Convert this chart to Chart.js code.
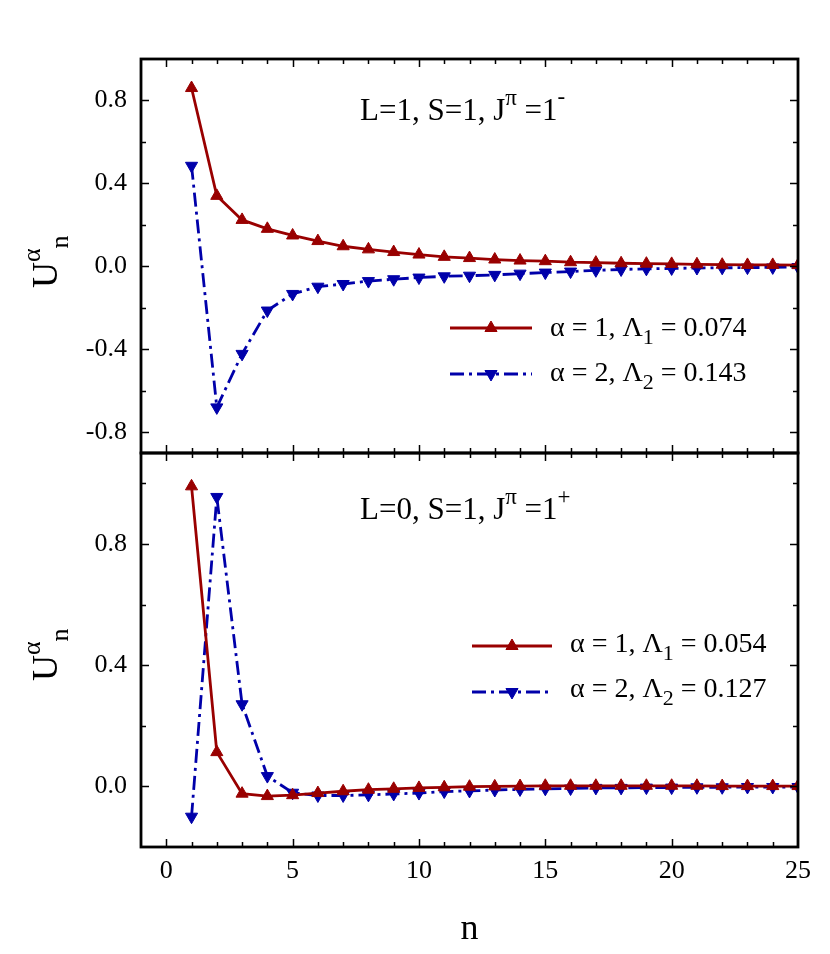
<!DOCTYPE html>
<html>
<head>
<meta charset="utf-8">
<title>U_n^alpha</title>
<script src="https://cdn.jsdelivr.net/npm/chart.js@4.4.1/dist/chart.umd.min.js"></script>
<style>
  html, body { margin: 0; padding: 0; background: #fff; }
  #wrap { position: relative; width: 830px; height: 954px; overflow: hidden; }
  canvas { position: absolute; left: 0; }
</style>
</head>
<body>
<div id="wrap">
  <canvas id="topChart" width="830" height="456" style="top:0"></canvas>
  <canvas id="botChart" width="830" height="511" style="top:443px"></canvas>
</div>
<script>
// basis index n
const nVals = [1, 2, 3, 4, 5, 6, 7, 8, 9, 10, 11, 12, 13, 14, 15, 16, 17, 18, 19, 20, 21, 22, 23, 24, 25]

// top panel: L=1, S=1, J^pi = 1^-
const topA1 = [0.86, 0.34, 0.224, 0.181, 0.149, 0.122, 0.097, 0.082, 0.069, 0.057, 0.046, 0.040, 0.033, 0.028, 0.025, 0.020, 0.018, 0.015, 0.013, 0.012, 0.010, 0.008, 0.007, 0.007, 0.006]
const topA2 = [0.485, -0.68, -0.422, -0.213, -0.133, -0.098, -0.085, -0.071, -0.062, -0.054, -0.048, -0.045, -0.041, -0.035, -0.030, -0.025, -0.019, -0.015, -0.012, -0.010, -0.008, -0.007, -0.006, -0.005, -0.003]

// bottom panel: L=0, S=1, J^pi = 1^+
const botA1 = [0.99, 0.113, -0.024, -0.032, -0.029, -0.022, -0.016, -0.011, -0.008, -0.005, -0.003, -0.001, 0.0, 0.001, 0.002, 0.002, 0.002, 0.002, 0.002, 0.002, 0.002, 0.001, 0.001, 0.001, 0.001]
const botA2 = [-0.10, 0.955, 0.271, 0.034, -0.021, -0.030, -0.030, -0.028, -0.025, -0.022, -0.017, -0.015, -0.012, -0.010, -0.008, -0.007, -0.005, -0.005, -0.004, -0.004, -0.003, -0.003, -0.002, -0.002, -0.002]

// ticks
const xTicks = [0, 1, 2, 3, 4, 5, 6, 7, 8, 9, 10, 11, 12, 13, 14, 15, 16, 17, 18, 19, 20, 21, 22, 23, 24, 25]
const xLabels = [0, 5, 10, 15, 20, 25]
const yTicksTop = [-0.8, -0.6, -0.4, -0.2, 0, 0.2, 0.4, 0.6, 0.8]
const yLabelsTop = [-0.8, -0.4, 0, 0.4, 0.8]
const yTicksBot = [0, 0.2, 0.4, 0.6, 0.8, 1.0]
const yLabelsBot = [0, 0.4, 0.8]

const RED = '#990000'
const BLUE = '#0000AA'
const SERIF = "'Liberation Serif', 'Times New Roman', serif"
const BLUE_DASH = [14, 5, 3, 5]
const LINE_W = 2.8
const MARK_R = 7

const pts = ys => nVals.map((x, i) => ({ x, y: ys[i] }))

function datasets(a1, a2) {
  return [
    {
      data: pts(a1),
      borderColor: RED, backgroundColor: RED, borderWidth: LINE_W,
      pointStyle: 'triangle', pointRadius: MARK_R, pointBorderWidth: 1,
      pointBackgroundColor: RED, pointBorderColor: RED,
    },
    {
      data: pts(a2),
      borderColor: BLUE, backgroundColor: BLUE, borderWidth: LINE_W,
      borderDash: BLUE_DASH,
      pointStyle: 'triangle', pointRotation: 180, pointRadius: MARK_R, pointBorderWidth: 1,
      pointBackgroundColor: BLUE, pointBorderColor: BLUE,
    },
  ]
}

// draw text pieces one after another: [text, size, dy]
function richText(ctx, parts, x, y) {
  let cx = x
  parts.forEach(([t, size, dy]) => {
    ctx.font = `${size}px ${SERIF}`
    ctx.fillText(t, cx, y + (dy || 0))
    cx += ctx.measureText(t).width
  })
}

// inward tick marks on all four sides + frame
const framePlugin = {
  id: 'frame',
  afterDraw(chart) {
    const { ctx, chartArea: a, scales: { x, y } } = chart
    ctx.save()
    ctx.strokeStyle = '#000'
    ctx.lineWidth = 1.5
    ctx.beginPath()
    x.ticks.forEach(t => {
      if (t.value <= x.min || t.value >= x.max) return
      const px = Math.round(x.getPixelForValue(t.value)) + 0.5
      const len = t.value % 5 === 0 ? 8 : 5
      ctx.moveTo(px, a.bottom); ctx.lineTo(px, a.bottom - len)
      ctx.moveTo(px, a.top); ctx.lineTo(px, a.top + len)
    })
    y.ticks.forEach(t => {
      if (t.value <= y.min || t.value >= y.max) return
      const py = Math.round(y.getPixelForValue(t.value)) + 0.5
      const q = t.value / 0.4
      const len = Math.abs(q - Math.round(q)) < 1e-6 ? 8 : 5
      ctx.moveTo(a.left, py); ctx.lineTo(a.left + len, py)
      ctx.moveTo(a.right, py); ctx.lineTo(a.right - len, py)
    })
    ctx.stroke()
    ctx.lineWidth = 2.8
    ctx.strokeRect(a.left, a.top, a.right - a.left, a.bottom - a.top)
    ctx.restore()
  }
}

// panel texts: annotation, legend and y title (page coords, shifted by canvas top)
function textPlugin(p) {
  return {
    id: 'panelText',
    afterDraw(chart) {
      const ctx = chart.ctx
      const off = p.canvasTop
      ctx.save()
      ctx.fillStyle = '#000'
      ctx.textBaseline = 'alphabetic'
      ctx.textAlign = 'left'

      // annotation
      richText(ctx, p.note, p.noteX, p.noteY - off)

      // legend
      p.legend.forEach(item => {
        const ly = item.y - off
        const mx = (p.legX0 + p.legX1) / 2
        ctx.save()
        ctx.strokeStyle = item.color
        ctx.fillStyle = item.color
        ctx.lineWidth = LINE_W
        ctx.setLineDash(item.dash || [])
        ctx.beginPath()
        ctx.moveTo(p.legX0, ly); ctx.lineTo(p.legX1, ly)
        ctx.stroke()
        ctx.setLineDash([])
        ctx.lineWidth = 1
        Chart.helpers.drawPoint(ctx, {
          pointStyle: 'triangle', rotation: item.rot, radius: MARK_R, borderWidth: 1
        }, mx, ly)
        ctx.restore()
        ctx.fillStyle = '#000'
        richText(ctx, item.text, p.legTextX, item.base - off)
      })

      // y title, rotated
      ctx.save()
      ctx.translate(57, p.titleY - off)
      ctx.rotate(-Math.PI / 2)
      richText(ctx, [['U', 36, 0], ['\u03B1', 26, -17], ['n', 26, 11]], 0, 0)
      ctx.restore()

      ctx.restore()
    }
  }
}

function axes(yMin, yMax, yTicks, yLabels, showX, xAxisH) {
  return {
    x: {
      type: 'linear', min: -1, max: 25,
      afterBuildTicks: s => { s.ticks = xTicks.map(v => ({ value: v })) },
      afterFit: s => { s.height = xAxisH; s.paddingLeft = 0; s.paddingRight = 0 },
      grid: { display: false, drawTicks: false },
      border: { display: false },
      ticks: {
        display: showX, autoSkip: false, maxRotation: 0, padding: 9,
        color: '#000', font: { family: SERIF, size: 26 },
        callback: v => xLabels.includes(v) ? String(v) : '',
      },
      title: {
        display: showX, text: 'n', color: '#000',
        font: { family: SERIF, size: 36 }, padding: { top: 0, bottom: 3 },
      },
    },
    y: {
      type: 'linear', min: yMin, max: yMax,
      afterBuildTicks: s => { s.ticks = yTicks.map(v => ({ value: v })) },
      afterFit: s => { s.width = 141; s.paddingTop = 0; s.paddingBottom = 0 },
      grid: { display: false, drawTicks: false },
      border: { display: false },
      ticks: {
        autoSkip: false, padding: 14, color: '#000',
        font: { family: SERIF, size: 26 },
        callback: v => yLabels.some(l => Math.abs(l - v) < 1e-9) ? v.toFixed(1) : '',
      },
    },
  }
}

function baseOptions(pad, scales) {
  return {
    responsive: false,
    animation: false,
    layout: { padding: pad, autoPadding: false },
    plugins: { legend: { display: false }, tooltip: { enabled: false } },
    scales,
  }
}

new Chart(document.getElementById('topChart'), {
  type: 'line',
  data: { datasets: datasets(topA1, topA2) },
  options: baseOptions({ left: 0, right: 32, top: 59, bottom: 0 },
    axes(-0.9, 1.0, yTicksTop, yLabelsTop, false, 3)),
  plugins: [framePlugin, textPlugin({
    canvasTop: 0,
    note: [['L=1, S=1, J', 31, 0], ['\u03C0', 23, -15], [' =1', 31, 0], ['-', 23, -16]],
    noteX: 360, noteY: 120,
    legX0: 450, legX1: 532, legTextX: 550,
    legend: [
      { y: 328, base: 336, color: RED, rot: 0,
        text: [['\u03B1 = 1, \u039B', 28, 0], ['1', 22, 8], [' = 0.074', 28, 0]] },
      { y: 374, base: 381, color: BLUE, rot: 180, dash: BLUE_DASH,
        text: [['\u03B1 = 2, \u039B', 28, 0], ['2', 22, 8], [' = 0.143', 28, 0]] },
    ],
    titleY: 288,
  })],
})

new Chart(document.getElementById('botChart'), {
  type: 'line',
  data: { datasets: datasets(botA1, botA2) },
  options: baseOptions({ left: 0, right: 32, top: 10, bottom: 0 },
    axes(-0.2, 1.1, yTicksBot, yLabelsBot, true, 107)),
  plugins: [framePlugin, textPlugin({
    canvasTop: 443,
    note: [['L=0, S=1, J', 31, 0], ['\u03C0', 23, -15], [' =1', 31, 0], ['+', 23, -15]],
    noteX: 360, noteY: 519,
    legX0: 472, legX1: 552, legTextX: 570,
    legend: [
      { y: 646, base: 652, color: RED, rot: 0,
        text: [['\u03B1 = 1, \u039B', 28, 0], ['1', 22, 8], [' = 0.054', 28, 0]] },
      { y: 692, base: 697, color: BLUE, rot: 180, dash: BLUE_DASH,
        text: [['\u03B1 = 2, \u039B', 28, 0], ['2', 22, 8], [' = 0.127', 28, 0]] },
    ],
    titleY: 681,
  })],
})
</script>
</body>
</html>
